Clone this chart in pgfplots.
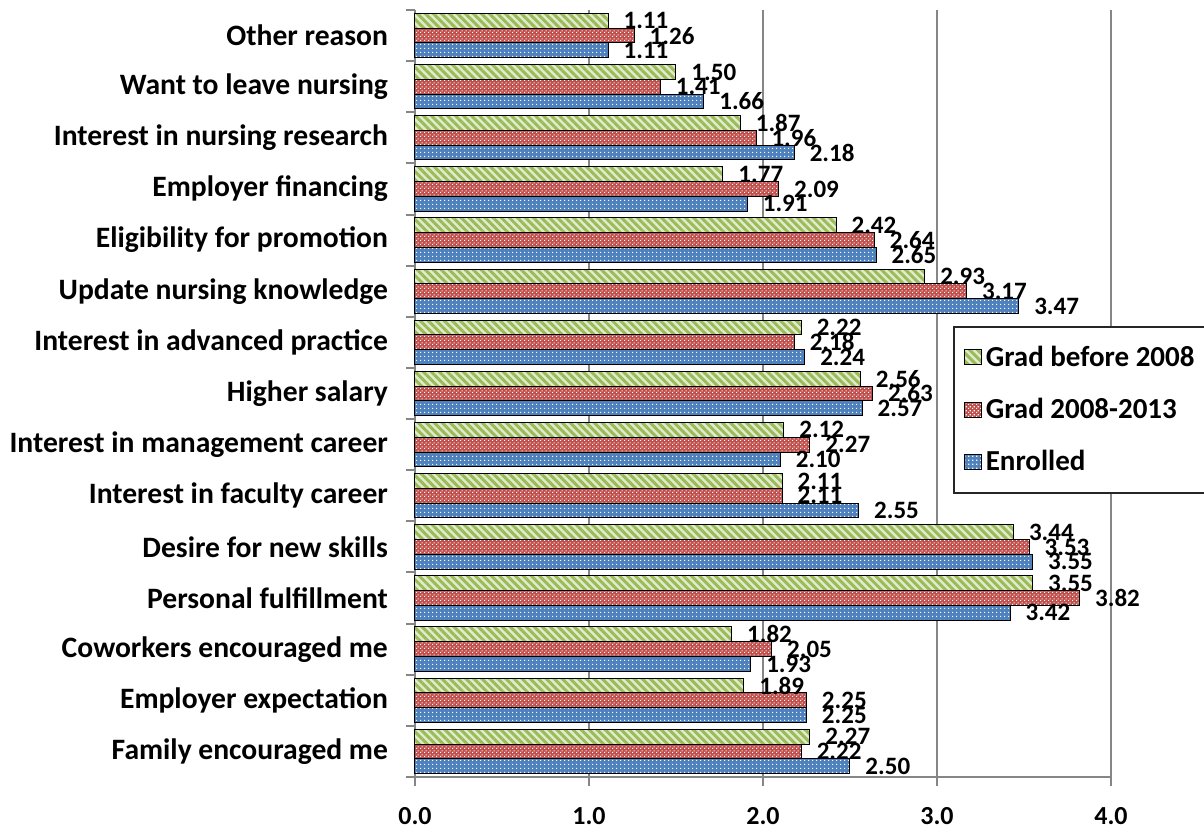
\documentclass[border=0pt]{standalone}
\usepackage{pgfplots}
\usepackage{pgfplotstable}
\pgfplotsset{compat=1.18}
\usepackage{fontspec}
\setmainfont{Carlito}
\usetikzlibrary{patterns,patterns.meta}

\definecolor{cgreen}{RGB}{155,187,89}
\definecolor{cgreenlt}{RGB}{225,235,205}
\definecolor{cred}{RGB}{192,80,77}
\definecolor{cblue}{RGB}{79,129,189}
\definecolor{axgray}{RGB}{134,134,134}

\tikzdeclarepattern{
  name=redcheck,
  type=uncolored,
  bounding box={(0pt,0pt) and (2pt,2pt)},
  tile size={(2pt,2pt)},
  code={\fill (0pt,0pt) rectangle (0.65pt,0.65pt); \fill (1pt,1pt) rectangle (1.65pt,1.65pt);}
}
\tikzdeclarepattern{
  name=bluedots,
  type=uncolored,
  bounding box={(0pt,0pt) and (2pt,2pt)},
  tile size={(2pt,2pt)},
  code={\fill (0pt,0pt) rectangle (0.75pt,0.75pt);}
}

\pgfplotstableread{
y g r b
0 2.27 2.22 2.50
1 1.89 2.25 2.25
2 1.82 2.05 1.93
3 3.55 3.82 3.42
4 3.44 3.53 3.55
5 2.11 2.11 2.55
6 2.12 2.27 2.10
7 2.56 2.63 2.57
8 2.22 2.18 2.24
9 2.93 3.17 3.47
10 2.42 2.64 2.65
11 1.77 2.09 1.91
12 1.87 1.96 2.18
13 1.50 1.41 1.66
14 1.11 1.26 1.11
}\data

\begin{document}
\begin{tikzpicture}
\path[use as bounding box] (-207.5pt,-26pt) rectangle (394.5pt,388.5pt);
\begin{axis}[
  scale only axis,
  width=348pt, height=383.5pt,
  xbar,
  bar width=0.289,
  xmin=0, xmax=4,
  ymin=-0.5, ymax=14.5,
  axis lines*=left,
  axis line style={draw=axgray, line width=1pt},
  clip=false,
  xtick={0,1,2,3,4},
  xticklabel style={/pgf/number format/fixed, /pgf/number format/fixed zerofill, /pgf/number format/precision=1, /pgf/number format/assume math mode=true, font=\fontsize{13}{15}\selectfont\bfseries, yshift=-7pt},
  ytick={0,...,14},
  yticklabels={Family encouraged me, Employer expectation, Coworkers encouraged me, Personal fulfillment, Desire for new skills, Interest in faculty career, Interest in management career, Higher salary, Interest in advanced practice, Update nursing knowledge, Eligibility for promotion, Employer financing, Interest in nursing research, Want to leave nursing, Other reason},
  yticklabel style={font=\fontsize{14.8}{17}\selectfont\bfseries, xshift=-5.5pt},
  minor ytick={-0.5,0.5,...,14.5},
  y tick style={draw=none},
  minor y tick style={draw=axgray, line width=1pt},
  x tick style={draw=axgray, line width=1pt},
  tick align=outside,
  major tick length=4.5pt,
  minor tick length=4.5pt,
  xmajorgrids,
  grid style={draw=axgray, line width=1pt},
  point meta=x,
  nodes near coords,
  nodes near coords style={/pgf/number format/fixed, /pgf/number format/fixed zerofill, /pgf/number format/precision=2, /pgf/number format/assume math mode=true},
  every node near coord/.append style={anchor=west, inner sep=0pt, xshift=7.5pt, text=black, font=\fontsize{12.5}{14}\selectfont\bfseries},
  legend image code/.code={\draw[#1] (0pt,-3.75pt) rectangle (8.5pt,3.75pt);},
  legend cell align=left,
  legend style={at={(rel axis cs:0.773,0.588)}, anchor=north west, draw=black!85, line width=0.8pt,
    font=\fontsize{14.5}{17}\selectfont\bfseries, row sep=10.5pt, inner xsep=5pt, inner ysep=7.5pt},
]
\addplot[draw=black, line width=0.5pt, fill=cgreenlt, postaction={pattern={Lines[angle=-45,distance=2.83pt,line width=1.5pt]}, pattern color=cgreen}, bar shift=0.289] table[x=g,y=y] \data;
\addplot[draw=black, line width=0.5pt, fill=cred, postaction={pattern=redcheck, pattern color=white}, bar shift=0] table[x=r,y=y] \data;
\addplot[draw=black, line width=0.5pt, fill=cblue, postaction={pattern=bluedots, pattern color=white}, bar shift=-0.289] table[x=b,y=y] \data;
\legend{Grad before 2008, Grad 2008-2013, Enrolled}
\end{axis}
\end{tikzpicture}
\end{document}
